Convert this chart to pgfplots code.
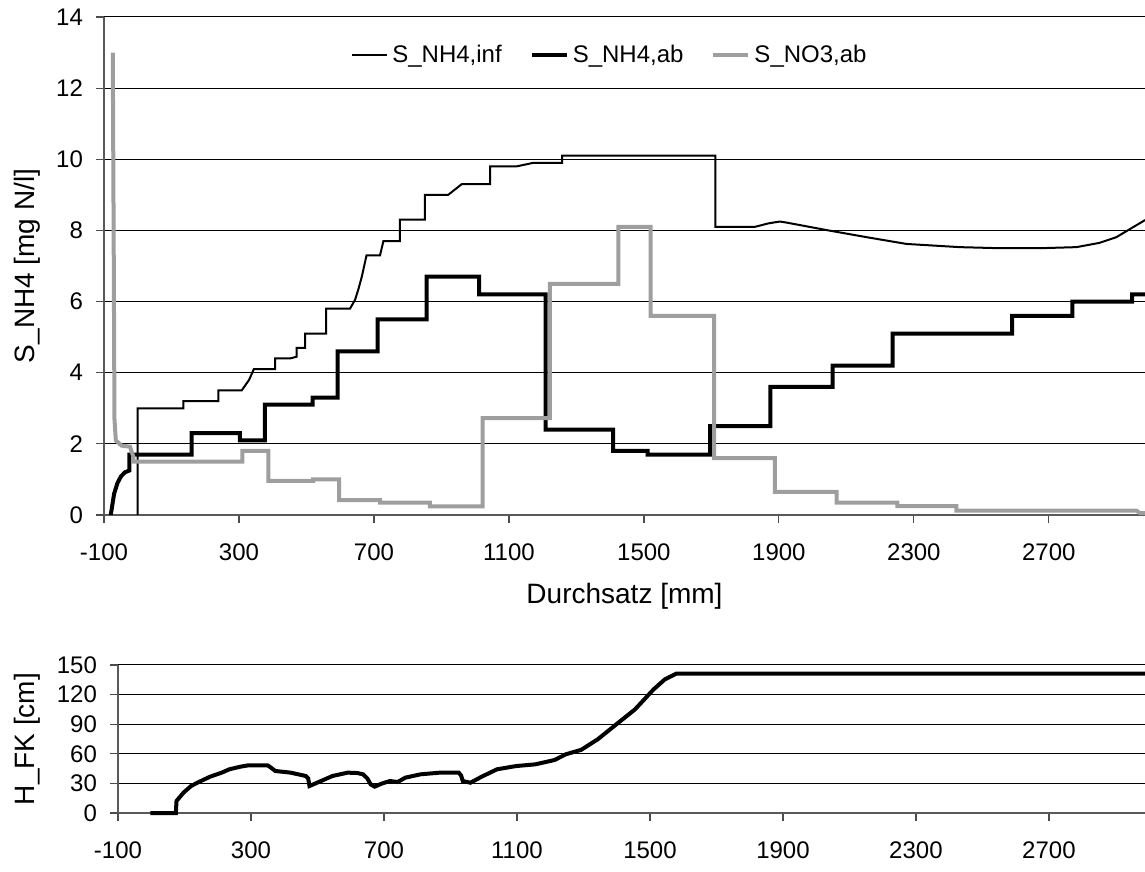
\documentclass[border=0pt]{standalone}
\usepackage{pgfplots}
\pgfplotsset{compat=1.18}
\usepackage{fontspec}
\setmainfont{Liberation Sans}
\definecolor{lgray}{RGB}{158,158,158}
\pgfplotsset{
  common/.style={
    scale only axis,
    anchor=south west,
    axis lines*=left,
    axis line style={-, draw=black!65, line width=0.6pt},
    tick align=outside,
    major tick length=4pt,
    tick style={black!70, line width=0.6pt},
    ymajorgrids,
    grid style={black, line width=0.5pt},
    tick label style={font=\fontsize{12}{14}\selectfont},
    label style={font=\fontsize{14}{16}\selectfont},
    /pgf/number format/assume math mode=true,
    /pgf/number format/1000 sep={},
    xticklabel style={yshift=-7pt},
    yticklabel style={xshift=-3pt},
    clip=false,
  }
}
\begin{document}
\begin{tikzpicture}
\useasboundingbox (0,0) rectangle (572.5pt,436pt);
% ---------------- top axis ----------------
\begin{axis}[common,
  at={(52pt,178.5pt)},
  width=520.5pt, height=249pt,
  xmin=-100, xmax=2985, ymin=0, ymax=14,
  xtick={-100,300,...,2700},
  ytick={0,2,...,14},
  xlabel={Durchsatz [mm]},
  ylabel={S\_NH4 [mg N/l]},
  xlabel style={at={(axis description cs:0.5,-0.163)}, anchor=center},
  ylabel style={at={(axis description cs:-0.074,0.5)}, anchor=center},
  legend style={at={(axis description cs:0.487,0.924)}, anchor=center,
    draw=none, fill=none, legend columns=3,
    font=\fontsize{12}{14}\selectfont,
    /tikz/every even column/.append style={column sep=12pt}},
  legend image code/.code={\draw[#1] (0pt,0pt) -- (17.5pt,0pt);},
]
\addplot[black, line width=1pt] coordinates {
(0,0) (0,3.0) (135,3.0) (135,3.2) (239,3.2) (239,3.5) (308,3.5) (330,3.8) (344,4.1)
(407,4.1) (407,4.4) (451,4.4) (471,4.45) (471,4.7) (496,4.7) (496,5.1) (558,5.1)
(558,5.8) (629,5.8) (644,6.05) (654,6.35) (664,6.7) (678,7.3) (718,7.3) (728,7.7)
(777,7.7) (777,8.3) (851,8.3) (851,9.0) (920,9.0) (940,9.15) (960,9.3) (1044,9.3)
(1044,9.8) (1123,9.8) (1172,9.9) (1258,9.9) (1258,10.1) (1712,10.1) (1712,8.1)
(1829,8.1) (1870,8.2) (1903,8.25) (1923,8.22) (2041,8.01) (2160,7.81) (2278,7.62)
(2436,7.53) (2555,7.50) (2673,7.50) (2782,7.53) (2850,7.65) (2900,7.81) (2985,8.29)
};
\addlegendentry{S\_NH4,inf}
\addplot[black, line width=2pt] coordinates {
(-80,0) (-75,0.3) (-70,0.6) (-60,0.9) (-50,1.08) (-38,1.2) (-25,1.25) (-25,1.7)
(160,1.7) (160,2.3) (303,2.3) (303,2.1) (377,2.1) (377,3.1) (518,3.1) (518,3.3)
(592,3.3) (592,4.6) (711,4.6) (711,5.5) (856,5.5) (856,6.7) (1012,6.7) (1012,6.2)
(1209,6.2) (1209,2.4) (1409,2.4) (1409,1.8) (1511,1.8) (1511,1.7) (1696,1.7)
(1696,2.5) (1875,2.5) (1875,3.6) (2059,3.6) (2059,4.2) (2237,4.2) (2237,5.1)
(2591,5.1) (2591,5.6) (2770,5.6) (2770,6.0) (2947,6.0) (2947,6.2) (2985,6.2)
};
\addlegendentry{S\_NH4,ab}
\addplot[lgray, line width=2pt] coordinates {
(-74,13.0) (-71,7.1) (-69,2.7) (-65,2.1) (-48,1.95) (-23,1.92) (-13,1.64) (-13,1.5)
(310,1.5) (310,1.8) (387,1.8) (387,0.96) (520,0.96) (520,1.0) (597,1.0) (597,0.42)
(718,0.42) (718,0.35) (866,0.35) (866,0.24) (1022,0.24) (1022,2.72) (1221,2.72)
(1221,6.5) (1424,6.5) (1424,8.1) (1520,8.1) (1520,5.6) (1708,5.6) (1708,1.6)
(1888,1.6) (1888,0.65) (2071,0.65) (2071,0.35) (2251,0.35) (2251,0.25) (2426,0.25)
(2426,0.12) (2960,0.12) (2970,0.05) (2985,0.05)
};
\addlegendentry{S\_NO3,ab}
\end{axis}
% ---------------- bottom axis ----------------
\begin{axis}[common,
  at={(59pt,29.5pt)},
  width=513.5pt, height=74pt,
  xmin=-100, xmax=2989, ymin=0, ymax=150,
  xtick={-100,300,...,2700},
  ytick={0,30,...,150},
  ylabel={H\_FK [cm]},
  ylabel style={at={(axis description cs:-0.0885,0.5)}, anchor=center},
]
\addplot[black, line width=2pt] coordinates {
(-3,0) (74,0) (76,12.2) (97,20.6) (120,27.4) (143,31.4) (177,36.8) (212,40.9)
(235,44.3) (269,47) (292,48.3) (350,48.3) (360,46) (373,42.6) (419,40.9) (465,37.5)
(472,35) (476,27.4) (499,30.7) (545,37.5) (591,40.9) (620,40.5) (637,39.2) (650,35)
(660,29) (672,26.7) (695,30) (718,32.4) (741,31.4) (764,35.8) (810,39.2) (868,40.9)
(925,40.9) (932,38) (937,32.4) (960,30.7) (994,36.8) (1040,44.3) (1098,47.6)
(1155,49.3) (1213,53.7) (1247,59.5) (1293,64) (1343,74.7) (1399,89.9) (1455,105)
(1511,125.3) (1545,135.5) (1579,141.2) (2989,141.2)
};
\end{axis}
\end{tikzpicture}
\end{document}
